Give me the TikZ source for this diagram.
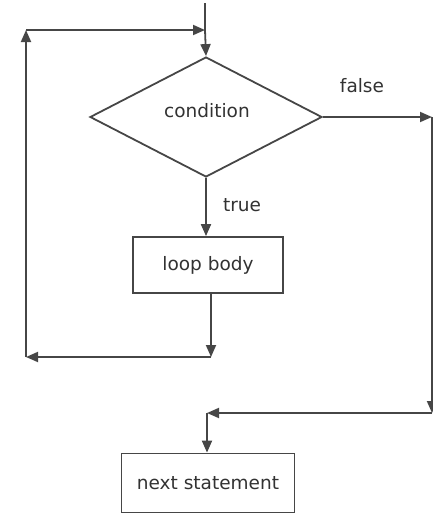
\documentclass[tikz,border=0pt]{standalone}
\usepackage{fontspec}
\setmainfont{DejaVu Sans}
\usetikzlibrary{shapes.geometric,arrows.meta}
\definecolor{linegray}{RGB}{70,70,70}
\definecolor{textgray}{RGB}{50,50,50}

\begin{document}
\begin{tikzpicture}[x={1pt},y={-1pt},
  line/.style={draw=linegray,line width=1.8pt},
  arr/.style={line,-{Triangle[length=12pt,width=10pt]}},
  lbl/.style={text=textgray,font=\fontsize{18.5}{22}\selectfont,inner sep=0pt},
  decision/.style={diamond,line,aspect=1.93,inner sep=0pt,minimum width=232pt,minimum height=120pt},
  stepbox/.style={rectangle,line,inner sep=0pt}]
\useasboundingbox (0,0) rectangle (433,515);

\node [decision] (cond) at (206,117) {};
\node [lbl] (condtext) at (207,111) {condition};
\node [stepbox,minimum width=150pt,minimum height=56pt] (body) at (208,265) {};
\node [lbl] at (body) {loop body};
\node [stepbox,minimum width=173pt,minimum height=59pt] (next) at (208,483) {};
\node [lbl] at (next) {next statement};

\coordinate (entry) at (205,3);
\coordinate (join) at (205,30);
\coordinate (lefttop) at (26,30);
\coordinate (leftbot) at (26,357);
\coordinate (back) at (211,357);
\coordinate (rtop) at (432,117);
\coordinate (rbot) at (432,413);
\coordinate (merge) at (207,413);

\draw [line] (entry) -- (join);
\draw [arr] (join) -- (cond.north);
\draw [arr] (cond.south) -- (cond.south |- body.north);
\node [lbl] (truelbl) at (242,205) {true};

\draw [arr] (body.south -| back) -- (back);
\draw [arr] (back) -- (leftbot);
\draw [arr] (leftbot) -- (lefttop);
\draw [arr] (lefttop) -- (join);

\draw [arr] (cond.east) -- (rtop);
\node [lbl] (falselbl) at (362,86) {false};
\draw [arr] (rtop) -- (rbot);
\draw [arr] (rbot) -- (merge);
\draw [arr] (merge) -- (next.north -| merge);

\end{tikzpicture}
\end{document}
